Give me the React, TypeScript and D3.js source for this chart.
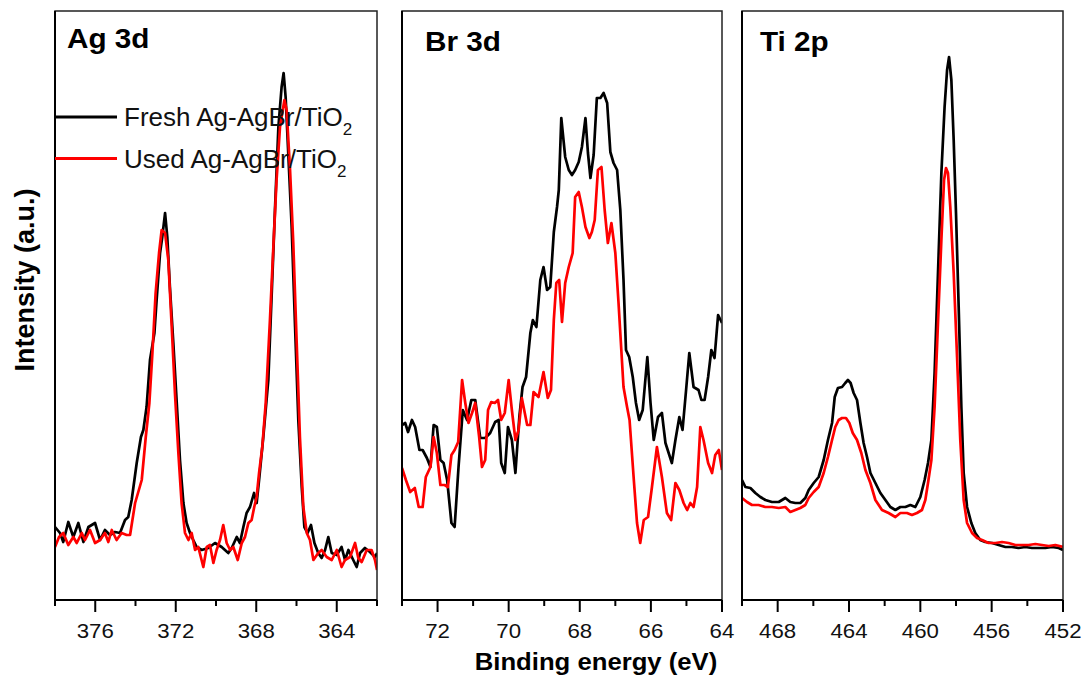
import React from "react";
import * as d3 from "d3";

// [binding energy (eV), intensity (a.u.)]
const agFresh: [number, number][] = [
  [378.0, 73], [377.75, 67], [377.59, 58], [377.34, 78], [377.09, 63], [376.84, 77], [376.59, 58],
  [376.34, 73], [376.01, 77], [375.76, 60], [375.52, 70], [375.27, 65], [375.02, 68], [374.77, 67],
  [374.52, 80], [374.36, 83], [374.19, 100], [373.94, 137], [373.73, 163], [373.61, 170], [373.45, 193],
  [373.28, 240], [373.06, 267], [372.95, 300], [372.78, 347], [372.67, 363], [372.53, 387], [372.42, 363],
  [372.29, 313], [372.12, 257], [371.95, 197], [371.79, 140], [371.62, 97], [371.46, 77], [371.29, 67],
  [371.13, 60], [370.96, 53], [370.71, 50], [370.38, 52], [370.05, 57], [369.72, 53], [369.39, 47],
  [369.22, 52], [368.97, 63], [368.81, 57], [368.64, 73], [368.48, 87], [368.31, 93], [368.11, 107],
  [367.98, 97], [367.86, 120], [367.65, 163], [367.4, 220], [367.23, 307], [367.07, 390], [366.9, 473],
  [366.74, 513], [366.64, 527], [366.54, 503], [366.41, 447], [366.24, 373], [366.07, 273], [365.91, 180],
  [365.74, 113], [365.61, 73], [365.45, 67], [365.28, 75], [365.11, 57], [364.92, 47], [364.75, 42],
  [364.58, 50], [364.42, 63], [364.25, 47], [364.0, 45], [363.76, 53], [363.59, 40], [363.42, 50],
  [363.18, 40], [363.01, 33], [362.84, 47], [362.6, 52], [362.35, 48], [362.1, 43], [362.0, 47],
];

const agUsed: [number, number][] = [
  [378.0, 53], [377.8, 63], [377.59, 67], [377.34, 55], [377.09, 63], [376.92, 57], [376.67, 67],
  [376.51, 60], [376.26, 70], [376.01, 57], [375.76, 60], [375.52, 67], [375.35, 58], [375.18, 70],
  [374.94, 60], [374.69, 67], [374.44, 65], [374.27, 65], [374.02, 97], [373.69, 120], [373.49, 163],
  [373.31, 197], [373.16, 247], [373.0, 307], [372.83, 347], [372.7, 370], [372.53, 367], [372.37, 340],
  [372.2, 273], [372.04, 207], [371.87, 147], [371.71, 97], [371.54, 67], [371.37, 60], [371.21, 67],
  [371.04, 50], [370.88, 53], [370.63, 33], [370.46, 53], [370.3, 55], [370.13, 37], [369.97, 50],
  [369.8, 60], [369.64, 75], [369.47, 57], [369.3, 50], [369.14, 53], [368.92, 40], [368.72, 57],
  [368.56, 63], [368.39, 77], [368.23, 80], [368.1, 93], [367.98, 103], [367.86, 127], [367.7, 153],
  [367.53, 197], [367.32, 280], [367.15, 353], [366.99, 420], [366.82, 473], [366.6, 500], [366.49, 490],
  [366.32, 430], [366.16, 357], [365.99, 257], [365.83, 163], [365.66, 93], [365.49, 67], [365.33, 60],
  [365.16, 40], [364.92, 47], [364.75, 50], [364.5, 43], [364.25, 40], [364.0, 50], [363.76, 33],
  [363.59, 40], [363.34, 43], [363.09, 57], [362.93, 42], [362.76, 38], [362.51, 50], [362.27, 50],
  [362.1, 40], [362.0, 30],
];

const brFresh: [number, number][] = [
  [73.0, 175], [72.91, 177], [72.83, 168], [72.72, 180], [72.63, 173], [72.51, 150], [72.42, 150],
  [72.3, 142], [72.2, 133], [72.11, 175], [72.02, 173], [71.92, 140], [71.83, 137], [71.73, 120],
  [71.61, 77], [71.52, 73], [71.41, 133], [71.29, 190], [71.17, 180], [71.05, 200], [70.94, 200],
  [70.8, 162], [70.66, 162], [70.52, 167], [70.38, 178], [70.28, 180], [70.21, 137], [70.11, 127],
  [70.02, 173], [69.91, 160], [69.81, 127], [69.7, 183], [69.61, 213], [69.51, 223], [69.39, 267],
  [69.32, 280], [69.22, 273], [69.11, 320], [69.02, 333], [68.92, 310], [68.83, 313], [68.73, 368],
  [68.64, 393], [68.59, 410], [68.52, 482], [68.41, 443], [68.31, 430], [68.22, 425], [68.13, 430],
  [68.03, 438], [67.94, 453], [67.84, 482], [67.77, 447], [67.7, 422], [67.61, 445], [67.52, 502],
  [67.42, 502], [67.33, 507], [67.23, 497], [67.14, 448], [67.05, 437], [66.95, 430], [66.86, 390],
  [66.77, 320], [66.7, 250], [66.61, 243], [66.51, 223], [66.42, 197], [66.33, 180], [66.23, 190],
  [66.1, 243], [66.01, 197], [65.92, 160], [65.8, 183], [65.69, 187], [65.59, 157], [65.41, 137],
  [65.31, 160], [65.2, 183], [65.11, 170], [65.01, 210], [64.92, 247], [64.8, 213], [64.66, 210],
  [64.58, 200], [64.49, 200], [64.39, 223], [64.3, 250], [64.21, 242], [64.11, 285], [64.0, 277],
];

const brUsed: [number, number][] = [
  [73.0, 132], [72.89, 120], [72.77, 108], [72.64, 112], [72.53, 93], [72.42, 93], [72.33, 123],
  [72.2, 133], [72.11, 163], [72.02, 147], [71.92, 115], [71.8, 115], [71.71, 113], [71.61, 145],
  [71.52, 150], [71.42, 158], [71.31, 220], [71.22, 197], [71.13, 177], [71.03, 187], [70.94, 197],
  [70.83, 163], [70.75, 133], [70.66, 140], [70.58, 190], [70.49, 198], [70.39, 197], [70.3, 200],
  [70.21, 180], [70.11, 187], [70.0, 220], [69.91, 190], [69.81, 160], [69.72, 170], [69.63, 202],
  [69.48, 175], [69.39, 175], [69.3, 208], [69.16, 203], [69.02, 228], [68.9, 202], [68.81, 210],
  [68.73, 280], [68.66, 317], [68.58, 320], [68.5, 278], [68.41, 317], [68.31, 333], [68.2, 347],
  [68.13, 403], [68.03, 408], [67.94, 393], [67.84, 373], [67.73, 362], [67.66, 368], [67.58, 380],
  [67.49, 430], [67.39, 433], [67.3, 390], [67.21, 357], [67.11, 377], [67.0, 347], [66.91, 297],
  [66.77, 213], [66.67, 193], [66.6, 180], [66.48, 120], [66.39, 77], [66.3, 57], [66.2, 80],
  [66.08, 83], [65.97, 113], [65.83, 153], [65.69, 123], [65.55, 87], [65.43, 80], [65.31, 117],
  [65.2, 110], [65.08, 97], [64.98, 90], [64.89, 97], [64.8, 93], [64.7, 113], [64.61, 173],
  [64.52, 160], [64.39, 137], [64.28, 127], [64.19, 145], [64.09, 150], [64.0, 130],
];

const tiFresh: [number, number][] = [
  [470.0, 120], [469.81, 113], [469.53, 112], [469.25, 107], [468.97, 103], [468.69, 100], [468.32, 98],
  [467.94, 98], [467.57, 102], [467.29, 98], [467.01, 97], [466.73, 97], [466.45, 102], [466.26, 110],
  [465.98, 117], [465.7, 123], [465.42, 140], [465.18, 160], [464.95, 177], [464.8, 203], [464.62, 212],
  [464.39, 213], [464.21, 217], [464.06, 220], [463.91, 217], [463.74, 207], [463.55, 200], [463.36, 177],
  [463.18, 157], [462.99, 143], [462.8, 127], [462.52, 117], [462.24, 107], [461.96, 100], [461.68, 93],
  [461.4, 90], [461.12, 93], [460.84, 93], [460.56, 95], [460.28, 93], [460.0, 103], [459.76, 120],
  [459.57, 137], [459.38, 160], [459.2, 227], [459.01, 327], [458.82, 427], [458.64, 493], [458.5, 530],
  [458.39, 543], [458.26, 520], [458.13, 460], [458.0, 387], [457.85, 293], [457.7, 193], [457.57, 127],
  [457.38, 93], [457.14, 77], [456.92, 67], [456.64, 60], [456.36, 58], [455.98, 57], [455.61, 55],
  [455.23, 53], [454.86, 53], [454.49, 52], [454.11, 53], [453.74, 52], [453.36, 52], [452.99, 52],
  [452.62, 53], [452.24, 52], [452.0, 50],
];

const tiUsed: [number, number][] = [
  [470.0, 102], [469.72, 98], [469.44, 95], [469.07, 95], [468.69, 93], [468.32, 93], [467.94, 92],
  [467.57, 93], [467.29, 88], [467.01, 90], [466.73, 92], [466.45, 95], [466.26, 102], [465.98, 108],
  [465.7, 113], [465.42, 127], [465.18, 143], [464.95, 160], [464.77, 173], [464.58, 180], [464.39, 182],
  [464.17, 182], [463.98, 177], [463.79, 167], [463.55, 160], [463.31, 147], [463.08, 130], [462.8, 117],
  [462.52, 100], [462.15, 90], [461.78, 87], [461.4, 83], [461.12, 87], [460.75, 87], [460.47, 85],
  [460.19, 87], [459.91, 90], [459.72, 100], [459.57, 117], [459.38, 140], [459.2, 193], [459.01, 277],
  [458.82, 360], [458.67, 420], [458.56, 432], [458.45, 427], [458.32, 393], [458.13, 327], [457.94, 243],
  [457.76, 160], [457.57, 100], [457.38, 77], [457.1, 67], [456.82, 62], [456.54, 60], [456.17, 57],
  [455.79, 57], [455.42, 58], [455.05, 57], [454.67, 55], [454.3, 55], [453.93, 55], [453.55, 56],
  [453.18, 55], [452.8, 54], [452.43, 55], [452.0, 53],
];

const agTicks = [376, 372, 368, 364];
const agMinor = [378, 374, 370, 366, 362];
const brTicks = [72, 70, 68, 66, 64];
const brMinor = [73, 71, 69, 67, 65];
const tiTicks = [468, 464, 460, 456, 452];
const tiMinor = [470, 466, 462, 458, 454];

const seriesNames = ["Fresh Ag-AgBr/TiO", "Used Ag-AgBr/TiO"];
const seriesColors = ["#000000", "#ff0000"];

const panels = [
  { title: "Ag 3d", domain: [378, 362], ticks: agTicks, minor: agMinor, fresh: agFresh, used: agUsed, x0: 55, x1: 377, tx: 67, ty: 48 },
  { title: "Br 3d", domain: [73, 64], ticks: brTicks, minor: brMinor, fresh: brFresh, used: brUsed, x0: 402, x1: 722, tx: 425, ty: 51 },
  { title: "Ti 2p", domain: [470, 452], ticks: tiTicks, minor: tiMinor, fresh: tiFresh, used: tiUsed, x0: 742, x1: 1063, tx: 760, ty: 51 },
];

const FONT = "'Liberation Sans', Arial, Helvetica, sans-serif";
const TOP = 11;
const BOTTOM = 600;

export default function App() {
  const y = d3.scaleLinear().domain([0, 589]).range([BOTTOM, TOP]);

  return (
    <div style={{ position: "absolute", left: 0, top: 0 }}>
      <svg width={1087} height={679} style={{ display: "block", background: "#fff" }}>
        {panels.map((p, i) => {
          const x = d3.scaleLinear().domain(p.domain).range([p.x0, p.x1]);
          const line = d3
            .line<[number, number]>()
            .x((d) => x(d[0]))
            .y((d) => y(d[1]));
          return (
            <g key={i}>
              <defs>
                <clipPath id={`clip${i}`}>
                  <rect x={p.x0} y={TOP} width={p.x1 - p.x0} height={BOTTOM - TOP} />
                </clipPath>
              </defs>
              <g clipPath={`url(#clip${i})`}>
                <path d={line(p.fresh) || ""} fill="none" stroke={seriesColors[0]} strokeWidth={2.7} strokeLinejoin="round" />
                <path d={line(p.used) || ""} fill="none" stroke={seriesColors[1]} strokeWidth={2.7} strokeLinejoin="round" />
              </g>
              {/* frame */}
              <rect x={p.x0} y={TOP} width={p.x1 - p.x0} height={BOTTOM - TOP} fill="none" stroke="#222" strokeWidth={1.5} />
              <line x1={p.x0} x2={p.x0} y1={TOP} y2={BOTTOM} stroke="#000" strokeWidth={2} />
              <line x1={p.x0} x2={p.x1} y1={BOTTOM} y2={BOTTOM} stroke="#000" strokeWidth={2} />
              {p.ticks.map((t) => (
                <g key={"t" + t}>
                  <line x1={x(t)} x2={x(t)} y1={BOTTOM} y2={BOTTOM + 12} stroke="#000" strokeWidth={2} />
                  <text
                    transform={`translate(${x(t)},638) scale(1.06,1)`}
                    textAnchor="middle"
                    fontFamily={FONT}
                    fontSize={21}
                    fill="#111"
                  >
                    {t}
                  </text>
                </g>
              ))}
              {p.minor.map((t) => (
                <line key={"m" + t} x1={x(t)} x2={x(t)} y1={BOTTOM} y2={BOTTOM + 6} stroke="#000" strokeWidth={2} />
              ))}
              <text
                transform={`translate(${p.tx},${p.ty}) scale(1.1,1)`}
                fontFamily={FONT}
                fontSize={27}
                fontWeight="bold"
                fill="#000"
              >
                {p.title}
              </text>
            </g>
          );
        })}

        {/* legend */}
        {seriesNames.map((name, i) => (
          <g key={name}>
            <line x1={55} x2={117} y1={117 + i * 41.5} y2={117 + i * 41.5} stroke={seriesColors[i]} strokeWidth={3} />
            <text x={124} y={126 + i * 41.5} fontFamily={FONT} fontSize={26} fill="#111">
              {name}
              <tspan fontSize={17} dy={9}>2</tspan>
            </text>
          </g>
        ))}

        <text
          transform="translate(34,280) rotate(-90)"
          textAnchor="middle"
          fontFamily={FONT}
          fontSize={27}
          fontWeight="bold"
          fill="#000"
        >
          Intensity (a.u.)
        </text>
        <text
          transform="translate(596,670) scale(1.07,1)"
          textAnchor="middle"
          fontFamily={FONT}
          fontSize={24}
          fontWeight="bold"
          fill="#000"
        >
          Binding energy (eV)
        </text>
      </svg>
    </div>
  );
}
